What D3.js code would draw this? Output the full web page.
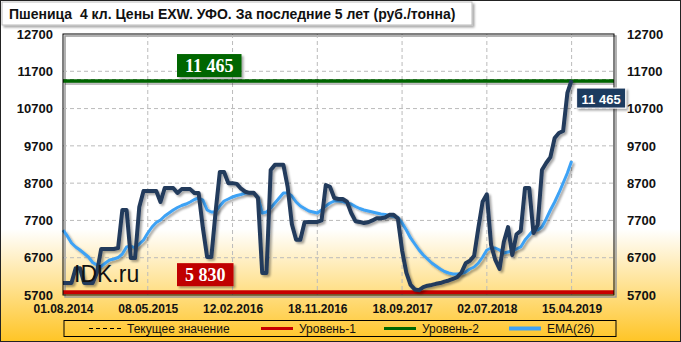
<!DOCTYPE html>
<html>
<head>
<meta charset="utf-8">
<script src="https://cdn.jsdelivr.net/npm/d3@7"></script>
<style>
  body { margin: 0; background: #fff; }
  svg { display: block; }
  .tick text { font-family: "Liberation Sans", Arial, sans-serif; font-weight: bold; font-size: 13px; fill: #111; }
  .xax .tick text { font-size: 12px; }
</style>
</head>
<body>
<svg id="chart" width="681" height="342"></svg>
<script>
// tick labels
var dateLabels = ["01.08.2014", "08.05.2015", "12.02.2016", "18.11.2016", "18.09.2017", "02.07.2018", "15.04.2019"];
var dateIdx = [0, 20, 40, 60, 80, 100, 120];
var yTicks = [5700, 6700, 7700, 8700, 9700, 10700, 11700, 12700];

// price, rub/ton (one point every ~2 weeks)
var price = [
  6020, 6020, 6020, 6420, 6420, 6020, 6020, 6020, 6300, 6934,
  6934, 6934, 6934, 6960, 7980, 7980, 6690, 6690, 8060, 8490,
  8490, 8490, 8490, 8194, 8570, 8570, 8570, 8436, 8540, 8540,
  8540, 8436, 8436, 7500, 6720, 6720, 7926, 9000, 9000, 8700,
  8700, 8680, 8550, 8470, 8440, 8440, 8300, 6290, 6290, 9050,
  9190, 9190, 9190, 8600, 7600, 7180, 7180, 7650, 7660, 7660,
  7660, 7700, 8650, 8600, 8300, 8275, 8275, 8200, 7900, 7680,
  7660, 7630, 7650, 7700, 7760, 7760, 7780, 7850, 7850, 7750,
  6900, 6300, 5970, 5850, 5830, 5910, 5950, 5970, 6000, 6020,
  6060, 6090, 6130, 6180, 6300, 6550, 6620, 6750, 7500, 8200,
  8400, 7041, 6640, 6400, 7120, 7520, 6770, 7330, 7420, 8570,
  8570, 7360, 7580, 9050, 9240, 9400, 9910, 10045, 10100, 11118,
  11465
];

// EMA(26)
var ema = [
  7443, 7283, 7095, 6988, 6907, 6813, 6720, 6572, 6505, 6465,
  6558, 6640, 6665, 6705, 6800, 6988, 7014, 6960, 7068, 7175,
  7363, 7524, 7645, 7712, 7819, 7900, 7980, 8047, 8100, 8140,
  8194, 8262, 8302, 8248, 7980, 7926, 7926, 8087, 8221, 8275,
  8329, 8369, 8396, 8436, 8436, 8436, 8329, 7899, 7926, 8033,
  8167, 8302, 8436, 8436, 8355, 8194, 8087, 8020, 7953, 7926,
  7899, 7980, 8087, 8167, 8221, 8221, 8208, 8167, 8140, 8074,
  8020, 7980, 7953, 7926, 7899, 7873, 7860, 7833, 7806, 7779,
  7631, 7443, 7229, 7068, 6907, 6773, 6666, 6558, 6478, 6397,
  6330, 6290, 6263, 6263, 6277, 6317, 6397, 6451, 6558, 6719,
  6907, 6961, 6961, 6907, 6827, 6854, 6880, 6934, 6988, 7175,
  7309, 7443, 7443, 7524, 7739, 7980, 8194, 8436, 8704, 8972,
  9294
];

var level1 = 5830;
var level2 = 11465;
var current = 11465;

var svg = d3.select("#chart");
var W = 681, H = 342;
var plot = {left: 63, right: 614, top: 34, bottom: 295};

var defs = svg.append("defs");
var grad = defs.append("linearGradient").attr("id", "bg").attr("x1", 0).attr("y1", 0).attr("x2", 0).attr("y2", 1);
grad.append("stop").attr("offset", "0%").attr("stop-color", "#ffffff");
grad.append("stop").attr("offset", "67%").attr("stop-color", "#ffffff");
grad.append("stop").attr("offset", "100%").attr("stop-color", "#ffc526");

var sh = defs.append("filter").attr("id", "shadow").attr("x", "-10%").attr("y", "-10%").attr("width", "120%").attr("height", "130%");
sh.append("feDropShadow").attr("dx", 2).attr("dy", 2).attr("stdDeviation", 1.2)
  .attr("flood-color", "#000").attr("flood-opacity", 0.35);

svg.append("rect").attr("x", 0.5).attr("y", 0.5).attr("width", W - 1).attr("height", H - 1)
  .attr("fill", "url(#bg)").attr("stroke", "#222");

// title
svg.append("rect").attr("x", 2).attr("y", 2).attr("width", 470).attr("height", 23)
  .attr("fill", "#fff").attr("stroke", "#bbb").attr("filter", "url(#shadow)");
svg.append("text").attr("x", 9).attr("y", 18.5)
  .style("font", "bold 14px 'Liberation Sans', Arial, sans-serif").style("fill", "#111")
  .style("white-space", "pre")
  .text("Пшеница  4 кл. Цены EXW. УФО. За последние 5 лет (руб./тонна)");

var x = d3.scaleLinear().domain([0, 130]).range([plot.left, plot.right]);
var y = d3.scaleLinear().domain([5700, 12700]).range([plot.bottom, plot.top]);

// plot frame shadow
svg.append("rect").attr("x", plot.left + 2).attr("y", plot.top + 2)
  .attr("width", plot.right - plot.left).attr("height", plot.bottom - plot.top)
  .attr("fill", "none").attr("stroke", "#999").attr("stroke-width", 1.5);

// grid
svg.append("g").selectAll("line").data(yTicks.slice(1, -1)).enter().append("line")
  .attr("x1", plot.left).attr("x2", plot.right)
  .attr("y1", function(d) { return y(d); }).attr("y2", function(d) { return y(d); })
  .attr("stroke", "#bbb").attr("stroke-dasharray", "4,3");
svg.append("g").selectAll("line").data(dateIdx.slice(1)).enter().append("line")
  .attr("y1", plot.top).attr("y2", plot.bottom)
  .attr("x1", function(d) { return x(d); }).attr("x2", function(d) { return x(d); })
  .attr("stroke", "#bbb").attr("stroke-dasharray", "4,3");

// axes
var yLeft = d3.axisLeft(y).tickValues(yTicks).tickFormat(d3.format("d")).tickSize(0).tickPadding(10);
svg.append("g").attr("transform", "translate(" + plot.left + ",0)").call(yLeft)
  .call(function(g) { g.select(".domain").remove(); });
var yRight = d3.axisRight(y).tickValues(yTicks).tickFormat(d3.format("d")).tickSize(0).tickPadding(13);
svg.append("g").attr("transform", "translate(" + plot.right + ",0)").call(yRight)
  .call(function(g) { g.select(".domain").remove(); });
var xAxis = d3.axisBottom(x).tickValues(dateIdx)
  .tickFormat(function(d, i) { return dateLabels[i]; }).tickSize(0).tickPadding(9);
svg.append("g").attr("class", "xax").attr("transform", "translate(0," + plot.bottom + ")").call(xAxis)
  .call(function(g) { g.select(".domain").remove(); });

// current value (dashed), levels with a plain offset shadow
svg.append("line").attr("x1", plot.left).attr("x2", plot.right)
  .attr("y1", y(current)).attr("y2", y(current))
  .attr("stroke", "#000").attr("stroke-dasharray", "4,3");
svg.append("line").attr("x1", plot.left + 2).attr("x2", plot.right)
  .attr("y1", y(level2) + 3.5).attr("y2", y(level2) + 3.5)
  .attr("stroke", "#000").attr("stroke-opacity", 0.25).attr("stroke-width", 3);
svg.append("line").attr("x1", plot.left).attr("x2", plot.right)
  .attr("y1", y(level2) + 1).attr("y2", y(level2) + 1)
  .attr("stroke", "#006600").attr("stroke-width", 3.5);
svg.append("line").attr("x1", plot.left).attr("x2", plot.right)
  .attr("y1", y(level1) + 2).attr("y2", y(level1) + 2)
  .attr("stroke", "#c80000").attr("stroke-width", 4);

// series
var line = d3.line().x(function(d, i) { return x(i); }).y(function(d) { return y(d); });
svg.append("path").datum(ema).attr("d", line)
  .attr("fill", "none").attr("stroke", "#3ea2f5").attr("stroke-width", 3)
  .attr("stroke-linejoin", "round").attr("filter", "url(#shadow)");
svg.append("path").datum(price).attr("d", line)
  .attr("fill", "none").attr("stroke", "#233a5c").attr("stroke-width", 4)
  .attr("stroke-linejoin", "round").attr("filter", "url(#shadow)");

// frame
svg.append("rect").attr("x", plot.left).attr("y", plot.top)
  .attr("width", plot.right - plot.left).attr("height", plot.bottom - plot.top)
  .attr("fill", "none").attr("stroke", "#000");

// watermark
svg.append("text").attr("x", 74).attr("y", 282)
  .style("font", "23px 'Liberation Sans', Arial, sans-serif").style("fill", "#111").text("IDK.ru");

// level boxes
function levelBox(val, top, fill) {
  var g = svg.append("g");
  var t = g.append("text").attr("x", 185).attr("y", top + 18)
    .style("font", "bold 18px 'Liberation Serif', 'Times New Roman', serif").style("fill", "#fff")
    .text(d3.format(",")(val).replace(",", " "));
  var w = t.node().getComputedTextLength();
  g.insert("rect", "text").attr("x", 177).attr("y", top).attr("width", w + 16).attr("height", 23)
    .attr("fill", fill).attr("filter", "url(#shadow)");
}
levelBox(level2, y(level2) - 26, "#006600");
levelBox(level1, y(level1) - 27, "#c00000");

// current value label
var cg = svg.append("g");
var ct = cg.append("text").attr("x", x(120) + 10).attr("y", y(current) + 24)
  .style("font", "bold 13px 'Liberation Sans', Arial, sans-serif").style("fill", "#fff")
  .text(d3.format(",")(current).replace(",", " "));
var cw = ct.node().getComputedTextLength();
cg.insert("rect", "text").attr("x", x(120) + 5).attr("y", y(current) + 8)
  .attr("width", cw + 10).attr("height", 20)
  .attr("fill", "#1e3a5f").attr("stroke", "#fff").attr("filter", "url(#shadow)");

// legend
var lg = svg.append("g");
lg.append("rect").attr("x", 64).attr("y", 320.5).attr("width", 552).attr("height", 16)
  .attr("fill", "none").attr("stroke", "#000");
var items = [
  {name: "Текущее значение", color: "#000", w: 1, dash: "4,3", x: 89},
  {name: "Уровень-1", color: "#c80000", w: 3, dash: null, x: 261},
  {name: "Уровень-2", color: "#006600", w: 3, dash: null, x: 384},
  {name: "EMA(26)", color: "#3ea2f5", w: 4, dash: null, x: 509}
];
items.forEach(function(d) {
  lg.append("line").attr("x1", d.x).attr("x2", d.x + 32).attr("y1", 328.5).attr("y2", 328.5)
    .attr("stroke", d.color).attr("stroke-width", d.w).attr("stroke-dasharray", d.dash);
  lg.append("text").attr("x", d.x + 38).attr("y", 333)
    .style("font", "12px 'Liberation Sans', Arial, sans-serif").style("fill", "#111").text(d.name);
});
</script>
</body>
</html>
